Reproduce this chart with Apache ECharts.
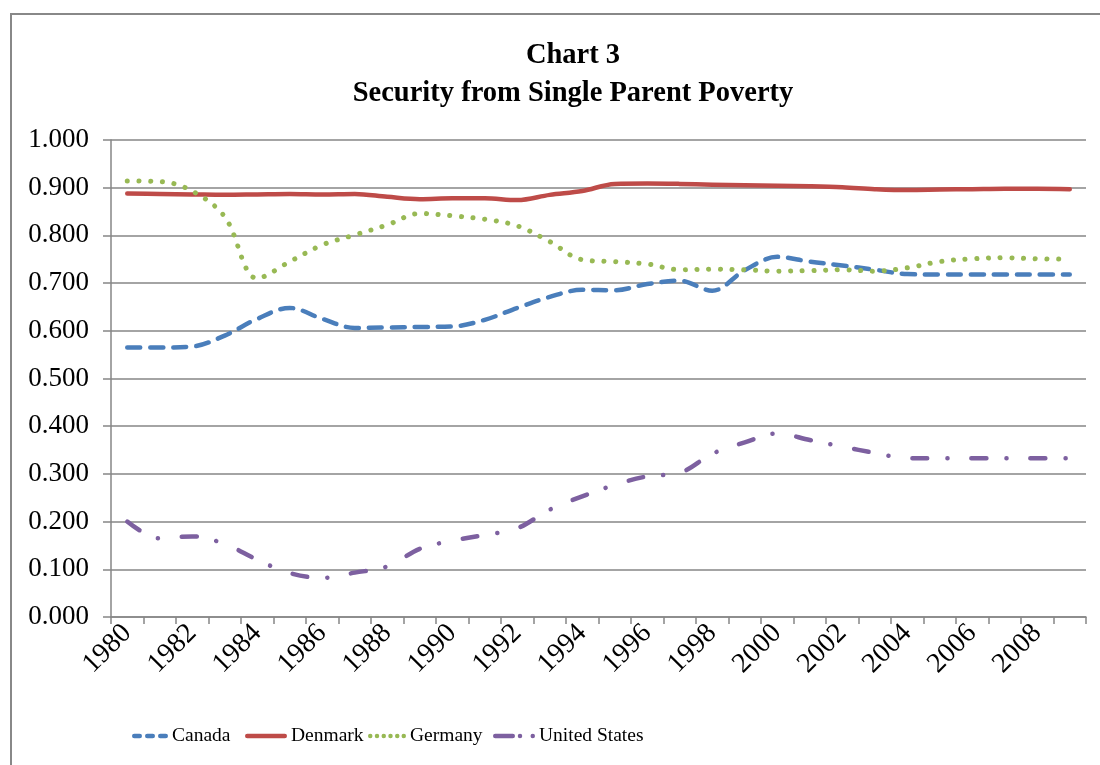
<!DOCTYPE html>
<html>
<head>
<meta charset="utf-8">
<script src="https://cdn.jsdelivr.net/npm/echarts@6/dist/echarts.min.js"></script>
<style>html,body{margin:0;padding:0;background:#fff}#c{width:1100px;height:765px}</style>
</head>
<body>
<div id="c"></div>
<script>
var years = ['1980','1981','1982','1983','1984','1985','1986','1987','1988','1989','1990','1991','1992','1993','1994','1995','1996','1997','1998','1999','2000','2001','2002','2003','2004','2005','2006','2007','2008','2009'];
var canada = [0.565,0.565,0.567,0.590,0.625,0.648,0.625,0.606,0.607,0.608,0.609,0.623,0.648,0.671,0.686,0.685,0.698,0.705,0.684,0.727,0.755,0.745,0.737,0.728,0.719,0.718,0.718,0.718,0.718,0.718];
var denmark = [0.888,0.887,0.886,0.885,0.886,0.887,0.886,0.887,0.881,0.876,0.878,0.878,0.874,0.885,0.893,0.908,0.909,0.908,0.906,0.905,0.904,0.903,0.901,0.897,0.895,0.896,0.897,0.898,0.898,0.897];
var germany = [0.914,0.913,0.893,0.839,0.710,0.745,0.780,0.801,0.822,0.846,0.841,0.834,0.820,0.787,0.749,0.745,0.740,0.728,0.729,0.728,0.725,0.726,0.728,0.725,0.732,0.745,0.751,0.753,0.751,0.750];
var usa = [0.200,0.165,0.169,0.153,0.120,0.092,0.082,0.093,0.106,0.143,0.160,0.172,0.186,0.225,0.253,0.277,0.295,0.302,0.342,0.366,0.385,0.371,0.357,0.344,0.333,0.333,0.333,0.333,0.333,0.333];
var seriesNames = ['Canada', 'Denmark', 'Germany', 'United States'];

var FONT = '"Liberation Serif", "Times New Roman", serif';

function rr(x0, x1) { // rounded bar, height 9 units
  return 'M' + (x0 + 4.5) + ',0 H' + (x1 - 4.5) + ' A4.5,4.5 0 0 1 ' + (x1 - 4.5) + ',9 H' + (x0 + 4.5) + ' A4.5,4.5 0 0 1 ' + (x0 + 4.5) + ',0 Z ';
}
function dot(cx) {
  return 'M' + (cx - 4.5) + ',4.5 A4.5,4.5 0 1 0 ' + (cx + 4.5) + ',4.5 A4.5,4.5 0 1 0 ' + (cx - 4.5) + ',4.5 Z ';
}
var icons = {
  'Canada': {w: 36, p: 'path://' + rr(0, 20) + rr(26, 46) + rr(52, 72)},
  'Denmark': {w: 42, p: 'path://' + rr(0, 84)},
  'Germany': {w: 38, p: 'path://' + dot(4.5) + dot(18) + dot(31.5) + dot(45) + dot(58.5) + dot(71.5)},
  'United States': {w: 42, p: 'path://' + rr(0, 44) + dot(54) + dot(79.5)}
};

var chart = echarts.init(document.getElementById('c'), null, {renderer: 'canvas'});
function legendAt(name, left) {
  return {
    data: [name], left: left, top: 721, itemWidth: icons[name].w, itemHeight: 4.5, itemGap: 0,
    icon: icons[name].p, symbolKeepAspect: false,
    textStyle: {fontFamily: FONT, fontSize: 19.5, color: '#000', padding: [0, 0, 0, -1]}
  };
}
var colors = ['#4A7EBB', '#BE4B48', '#98B954', '#7D60A0'];
var option = {
  backgroundColor: '#fff',
  animation: false,
  graphic: [{
    type: 'rect', shape: {x: 11, y: 14, width: 1200, height: 900},
    style: {fill: 'none', stroke: '#888', lineWidth: 2}, silent: true
  }],
  title: {
    text: 'Chart 3\nSecurity from Single Parent Poverty',
    left: 568, top: 32, textAlign: 'center',
    textStyle: {fontFamily: FONT, fontSize: 28.5, fontWeight: 'bold', color: '#000', lineHeight: 38}
  },
  legend: [legendAt('Canada', 127), legendAt('Denmark', 240), legendAt('Germany', 363), legendAt('United States', 488)],
  grid: {left: 111, right: 14, top: 140, bottom: 148, containLabel: false},
  xAxis: {
    type: 'category', data: years, boundaryGap: true,
    axisLine: {show: true, lineStyle: {color: '#868686', width: 1.5}},
    axisTick: {show: true, interval: 0, length: 7, lineStyle: {color: '#868686', width: 1.5}},
    axisLabel: {interval: 1, rotate: 45, margin: 12, fontFamily: FONT, fontSize: 28, color: '#000'},
    splitLine: {show: false}
  },
  yAxis: {
    type: 'value', min: 0, max: 1, interval: 0.1,
    axisLine: {show: true, lineStyle: {color: '#868686', width: 1.5}},
    axisTick: {show: true, length: 8, lineStyle: {color: '#868686', width: 1.5}},
    axisLabel: {margin: 22, fontFamily: FONT, fontSize: 27, color: '#000',
      formatter: function (v) { return v.toFixed(3); }},
    splitLine: {show: true, lineStyle: {color: '#868686', width: 1.5}}
  },
  series: [
    {name: seriesNames[0], type: 'line', data: canada, symbol: 'none', smooth: 0.35, z: 3,
     itemStyle: {color: colors[0]},
     lineStyle: {color: colors[0], width: 4.5, type: [13, 10], cap: 'round', join: 'round'}},
    {name: seriesNames[1], type: 'line', data: denmark, symbol: 'none', smooth: 0.35, z: 2,
     itemStyle: {color: colors[1]},
     lineStyle: {color: colors[1], width: 4.5, type: 'solid', cap: 'round', join: 'round'}},
    {name: seriesNames[2], type: 'line', data: germany, symbol: 'none', smooth: 0.35, z: 4,
     itemStyle: {color: colors[2]},
     lineStyle: {color: colors[2], width: 5, type: [0.1, 11.6], cap: 'round', join: 'round'}},
    {name: seriesNames[3], type: 'line', data: usa, symbol: 'none', smooth: 0.35, z: 3,
     itemStyle: {color: colors[3]},
     lineStyle: {color: colors[3], width: 4.5, type: [15, 20, 0.1, 24], cap: 'round', join: 'round'}}
  ]
};
chart.setOption(option);
</script>
</body>
</html>
